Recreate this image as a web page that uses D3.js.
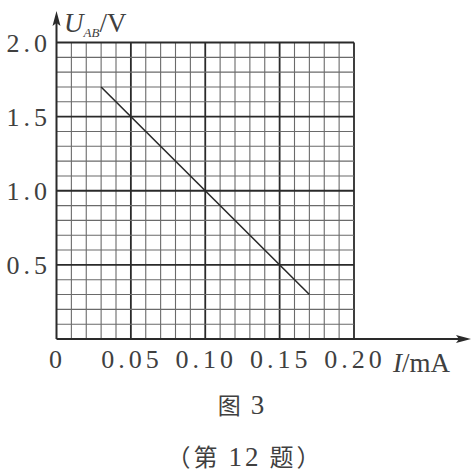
<!DOCTYPE html>
<html><head><meta charset="utf-8">
<script src="https://cdn.jsdelivr.net/npm/d3@7"></script>
<style>body{margin:0;background:#fff;}svg{display:block;}</style>
</head><body>
<script>
const xTicks = [0, 0.05, 0.10, 0.15, 0.20];
const xTickLabels = ["0", "0.05", "0.10", "0.15", "0.20"];
const yTicks = [0.5, 1.0, 1.5, 2.0];
const yTickLabels = ["0.5", "1.0", "1.5", "2.0"];
const lineI = [0.03, 0.17];
const lineU = [1.7, 0.3];
const caption = ["图", "3"];
const subCaption = ["（第", "12", "题）"];

const W = 474, H = 473;
const svg = d3.select("body").append("svg").attr("width", W).attr("height", H);
const x = d3.scaleLinear().domain([0, 0.2]).range([56.5, 354]);
const y = d3.scaleLinear().domain([0, 2]).range([339, 42.5]);

const ink = "#2a2a2a";
const g = svg.append("g");
d3.range(1, 21).forEach(i => {
  const v = i * 0.01;
  const major = i % 5 === 0;
  g.append("line").attr("x1", x(v)).attr("x2", x(v)).attr("y1", y(0)).attr("y2", y(2))
    .attr("stroke", major ? ink : "#6a6a6a").attr("stroke-width", major ? 1.8 : 1.1);
});
d3.range(1, 21).forEach(i => {
  const v = i * 0.1;
  const major = i % 5 === 0;
  g.append("line").attr("y1", y(v)).attr("y2", y(v)).attr("x1", x(0)).attr("x2", x(0.2))
    .attr("stroke", major ? ink : "#6a6a6a").attr("stroke-width", major ? 1.8 : 1.1);
});
g.append("line").attr("x1", x(0)).attr("x2", 462).attr("y1", y(0)).attr("y2", y(0))
  .attr("stroke", ink).attr("stroke-width", 2);
g.append("line").attr("x1", x(0)).attr("x2", x(0)).attr("y1", y(0)).attr("y2", 20)
  .attr("stroke", ink).attr("stroke-width", 2);
g.append("path").attr("d", `M471,${y(0)} L456,${y(0)-4} L459,${y(0)} L456,${y(0)+4} Z`).attr("fill", ink);
g.append("path").attr("d", `M${x(0)},11 L${x(0)-4},26 L${x(0)},23 L${x(0)+4},26 Z`).attr("fill", ink);

g.append("path").datum(lineI.map((d, i) => [d, lineU[i]]))
  .attr("d", d3.line().x(d => x(d[0])).y(d => y(d[1])))
  .attr("stroke", ink).attr("stroke-width", 1.6).attr("fill", "none");

const tcol = "#404040";
const font = "'Liberation Serif', 'DejaVu Serif', serif";
svg.selectAll(".xt").data(xTicks).enter().append("text")
  .attr("x", (d) => x(d) + 1).attr("y", 368)
  .attr("text-anchor", "middle").attr("font-family", font).attr("font-size", 26)
  .attr("letter-spacing", 4).attr("fill", tcol)
  .text((d, i) => xTickLabels[i]);
svg.selectAll(".yt").data(yTicks).enter().append("text")
  .attr("x", 51).attr("y", d => y(d) + 9)
  .attr("text-anchor", "end").attr("font-family", font).attr("font-size", 26)
  .attr("letter-spacing", 4).attr("fill", tcol)
  .text((d, i) => yTickLabels[i]);

const xt = svg.append("text").attr("x", 393).attr("y", 372).attr("font-family", font).attr("font-size", 27).attr("fill", tcol);
xt.append("tspan").attr("font-style", "italic").text("I");
xt.append("tspan").text("/mA");

const yt = svg.append("text").attr("x", 64).attr("y", 32).attr("font-family", font).attr("font-size", 27).attr("fill", tcol);
yt.append("tspan").attr("font-style", "italic").text("U");
yt.append("tspan").attr("font-style", "italic").attr("font-size", 13).attr("dy", 5).text("AB");
yt.append("tspan").attr("dy", -5).text("/V");

const cjk = "'Noto Sans CJK SC', sans-serif";
const c1 = svg.append("text").attr("x", 241).attr("y", 414).attr("text-anchor", "middle")
  .attr("font-family", cjk).attr("font-size", 23).attr("fill", tcol);
c1.append("tspan").text(caption[0]);
c1.append("tspan").attr("font-family", font).attr("font-size", 27).attr("dx", 10).text(caption[1]);
const c2 = svg.append("text").attr("x", 245).attr("y", 466).attr("text-anchor", "middle")
  .attr("font-family", cjk).attr("font-size", 24).attr("letter-spacing", 3).attr("fill", tcol);
c2.append("tspan").text(subCaption[0]);
c2.append("tspan").attr("font-family", font).attr("font-size", 27).attr("dx", 8).text(subCaption[1]);
c2.append("tspan").attr("dx", 8).text(subCaption[2]);
</script>
</body></html>
